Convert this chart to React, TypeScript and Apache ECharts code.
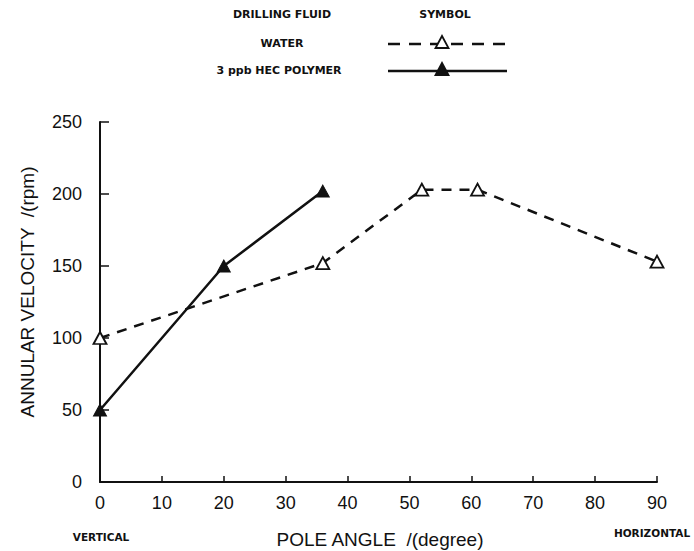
import React, { useEffect, useRef } from "react";
import * as echarts from "echarts";

const xTicks = [0, 10, 20, 30, 40, 50, 60, 70, 80, 90];
const yTicks = [0, 50, 100, 150, 200, 250];
const waterAngle = [0, 36, 52, 61, 90];
const waterVelocity = [100, 152, 203, 203, 153];
const polymerAngle = [0, 20, 36];
const polymerVelocity = [50, 150, 202];
const seriesNames = ["WATER", "3 ppb HEC POLYMER"];
const xAxisName = "POLE ANGLE  /(degree)";
const yAxisName = "ANNULAR VELOCITY  /(rpm)";

const INK = "#111";
const FONT = "'Liberation Sans', Arial, sans-serif";
const SMALL = "'DejaVu Sans', sans-serif";

export default function App() {
  const ref = useRef<HTMLDivElement>(null);
  useEffect(() => {
    if (!ref.current) return;
    const chart = echarts.init(ref.current, undefined, { renderer: "svg" });
    const water = waterAngle.map((a, i) => [a, waterVelocity[i]]);
    const polymer = polymerAngle.map((a, i) => [a, polymerVelocity[i]]);
    const smallText = (text: string, x: number, y: number, size = 9) => ({
      type: "text",
      x,
      y,
      style: { text, fill: INK, font: `bold ${size}px ${SMALL}`, textAlign: "center", textVerticalAlign: "middle" },
    });
    const tri = (cx: number, cy: number, filled: boolean) => ({
      type: "polygon",
      shape: { points: [[cx, cy - 7], [cx - 6.5, cy + 5], [cx + 6.5, cy + 5]] },
      style: { fill: filled ? INK : "#fff", stroke: INK, lineWidth: 1.8 },
      z: 10,
    });
    chart.setOption({
      animation: false,
      backgroundColor: "#fff",
      grid: { left: 100, right: 37, top: 122, bottom: 69 },
      xAxis: {
        type: "value",
        min: 0,
        max: 90,
        interval: 10,
        axisLine: { show: true, lineStyle: { color: INK, width: 2 } },
        axisTick: { show: true, inside: true, length: 6, lineStyle: { color: INK, width: 1.5 } },
        axisLabel: { color: INK, fontSize: 18, fontFamily: FONT, margin: 12, formatter: (v: number) => (xTicks.includes(v) ? String(v) : "") },
        splitLine: { show: false },
      },
      yAxis: {
        type: "value",
        min: 0,
        max: 250,
        interval: 50,
        axisLine: { show: true, lineStyle: { color: INK, width: 2 } },
        axisTick: { show: true, inside: true, length: 9, lineStyle: { color: INK, width: 1.5 } },
        axisLabel: { color: INK, fontSize: 18, fontFamily: FONT, margin: 18, formatter: (v: number) => (yTicks.includes(v) ? String(v) : "") },
        splitLine: { show: false },
      },
      series: [
        {
          name: seriesNames[0],
          type: "line",
          data: water,
          symbol: "triangle",
          symbolSize: [13, 12],
          itemStyle: { color: "#fff", borderColor: INK, borderWidth: 1.8 },
          lineStyle: { color: INK, width: 2.5, type: [10, 8] },
          z: 3,
        },
        {
          name: seriesNames[1],
          type: "line",
          data: polymer,
          symbol: "triangle",
          symbolSize: [13, 12],
          itemStyle: { color: INK, borderColor: INK, borderWidth: 1 },
          lineStyle: { color: INK, width: 2.5 },
          z: 4,
        },
      ],
      graphic: [
        smallText("DRILLING FLUID", 282, 14, 11),
        smallText("SYMBOL", 445, 14, 11),
        smallText(seriesNames[0], 282, 43, 11),
        smallText(seriesNames[1], 279, 70, 11),
        { type: "line", shape: { x1: 388, y1: 44, x2: 507, y2: 44 }, style: { stroke: INK, lineWidth: 2.5, lineDash: [12, 9] } },
        tri(442, 43, false),
        { type: "line", shape: { x1: 388, y1: 71, x2: 507, y2: 71 }, style: { stroke: INK, lineWidth: 2.5 } },
        tri(442, 70, true),
        smallText("VERTICAL", 101, 537, 10.5),
        smallText("HORIZONTAL", 652, 533, 10.5),
        {
          type: "text",
          x: 380,
          y: 539,
          style: { text: xAxisName, fill: INK, font: `19px ${FONT}`, textAlign: "center", textVerticalAlign: "middle" },
        },
        {
          type: "text",
          x: 27,
          y: 292,
          rotation: Math.PI / 2,
          style: { text: yAxisName, fill: INK, font: `19px ${FONT}`, textAlign: "center", textVerticalAlign: "middle" },
        },
      ],
    });
    return () => chart.dispose();
  }, []);
  return <div ref={ref} style={{ width: 694, height: 551, position: "absolute", left: 0, top: 0 }} />;
}
